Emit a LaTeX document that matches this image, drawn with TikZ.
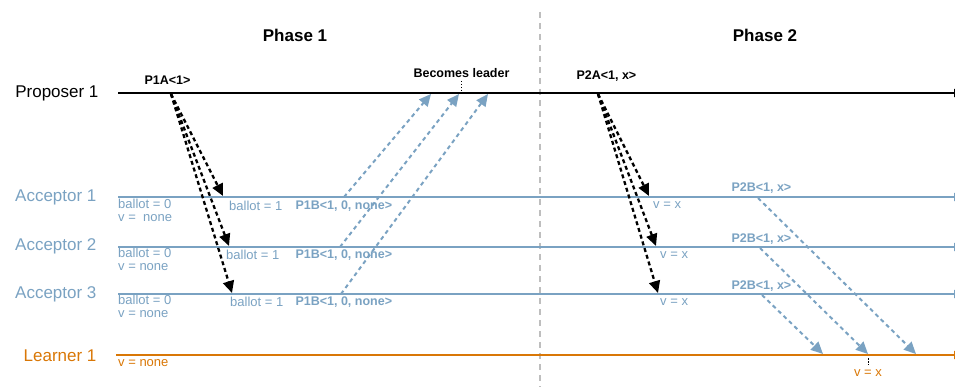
\documentclass[tikz,border=0pt]{standalone}
\usepackage{fontspec}
\setmainfont{Liberation Sans}
\usetikzlibrary{arrows.meta}
\definecolor{accblue}{RGB}{122,162,194}
\definecolor{lrnorange}{RGB}{217,119,6}
\definecolor{sepgray}{RGB}{190,190,190}
\tikzset{
  x=1pt, y=-1pt,
  actor/.style={anchor=east, font=\fontsize{17}{20}\selectfont},
  phase/.style={font=\fontsize{17}{20}\selectfont\bfseries},
  msg/.style={anchor=west, font=\fontsize{12.5}{15}\selectfont\bfseries},
  state/.style={anchor=west, inner sep=0pt, font=\fontsize{13}{15}\selectfont},
  lifeline/.style={line width=2pt, -{Triangle[length=8pt,width=8pt]}},
  reqmsg/.style={black, line width=2.3pt, dash pattern=on 4pt off 3pt,
    -{Triangle[length=12pt,width=11pt]}},
  repmsg/.style={accblue, line width=2pt, dash pattern=on 4pt off 3.5pt,
    -{Triangle[length=12pt,width=11pt]}},
  marker/.style={black, line width=0.8pt, dash pattern=on 1.5pt off 1.5pt}
}
\begin{document}
\begin{tikzpicture}
\useasboundingbox (0,0) rectangle (955,387);

% phase separator
\draw[sepgray, line width=1.2pt, dash pattern=on 6pt off 5pt] (540,12) -- (540,387);
\node[phase] (ph1) at (295,35) {Phase 1};
\node[phase] (ph2) at (765,35) {Phase 2};

% actor names
\node[actor] (prop) at (102,93) {Proposer 1};
\node[actor, text=accblue] (acc1) at (100,197) {Acceptor 1};
\node[actor, text=accblue] (acc2) at (100,246) {Acceptor 2};
\node[actor, text=accblue] (acc3) at (100,294) {Acceptor 3};
\node[actor, text=lrnorange] (lrn) at (100,356) {Learner 1};

% lifelines
\coordinate (propS) at (118,93);  \coordinate (propE) at (962,93);
\coordinate (a1S) at (118,197);   \coordinate (a1E) at (962,197);
\coordinate (a2S) at (118,247);   \coordinate (a2E) at (962,247);
\coordinate (a3S) at (118,294);   \coordinate (a3E) at (962,294);
\coordinate (lS) at (116,355);    \coordinate (lE) at (962,355);
\draw[lifeline, black] (propS) -- (propE);
\draw[lifeline, accblue] (a1S) -- (a1E);
\draw[lifeline, accblue] (a2S) -- (a2E);
\draw[lifeline, accblue] (a3S) -- (a3E);
\draw[lifeline, lrnorange, line width=2.5pt] (lS) -- (lE);

% initial state
\foreach \y/\n in {204/1,253/2,300/3}{
  \node[state, text=accblue] (b0\n) at (118,\y) {ballot = 0};
}
\node[state, text=accblue] (v01) at (118,218) {v =\ \ none};
\node[state, text=accblue] (v02) at (118,267) {v = none};
\node[state, text=accblue] (v03) at (118,314) {v = none};
\node[state, text=lrnorange] (lv0) at (118,363) {v = none};

% ---- phase 1 ----
\node[msg] (p1a) at (141,80) {P1A<1>};
\coordinate (p1aS) at (171,94);
\coordinate (p1aT1) at (223,196);
\coordinate (p1aT2) at (229,246);
\coordinate (p1aT3) at (232,293);
\draw[reqmsg] (p1aS) -- (p1aT1);
\draw[reqmsg] (p1aS) -- (p1aT2);
\draw[reqmsg] (p1aS) -- (p1aT3);

\node[state, text=accblue] (b11) at (229,206) {ballot = 1};
\node[state, text=accblue] (b12) at (226,255) {ballot = 1};
\node[state, text=accblue] (b13) at (230,302) {ballot = 1};
\node[msg, text=accblue] (p1b1) at (292,206) {P1B<1, 0, none>};
\node[msg, text=accblue] (p1b2) at (292,255) {P1B<1, 0, none>};
\node[msg, text=accblue] (p1b3) at (292,302) {P1B<1, 0, none>};

\coordinate (p1bS1) at (344,197); \coordinate (p1bT1) at (431,94);
\coordinate (p1bS2) at (340,247); \coordinate (p1bT2) at (459,94);
\coordinate (p1bS3) at (341,294); \coordinate (p1bT3) at (488,94);
\draw[repmsg] (p1bS1) -- (p1bT1);
\draw[repmsg] (p1bS2) -- (p1bT2);
\draw[repmsg] (p1bS3) -- (p1bT3);

\node[msg] (lead) at (410,73) {Becomes leader};
\coordinate (leadA) at (461,81); \coordinate (leadB) at (461,92);
\draw[marker] (leadA) -- (leadB);

% ---- phase 2 ----
\node[msg] (p2a) at (573,76) {P2A<1, x>};
\coordinate (p2aS) at (598,94);
\coordinate (p2aT1) at (649,196);
\coordinate (p2aT2) at (656,246);
\coordinate (p2aT3) at (658,293);
\draw[reqmsg] (p2aS) -- (p2aT1);
\draw[reqmsg] (p2aS) -- (p2aT2);
\draw[reqmsg] (p2aS) -- (p2aT3);

\node[state, text=accblue] (vx1) at (653,205) {v = x};
\node[state, text=accblue] (vx2) at (660,255) {v = x};
\node[state, text=accblue] (vx3) at (660,302) {v = x};
\node[msg, text=accblue] (p2b1) at (728,188) {P2B<1, x>};
\node[msg, text=accblue] (p2b2) at (728,239) {P2B<1, x>};
\node[msg, text=accblue] (p2b3) at (728,286) {P2B<1, x>};

\coordinate (p2bS1) at (758,198); \coordinate (p2bT1) at (916,354);
\coordinate (p2bS2) at (760,248); \coordinate (p2bT2) at (868,354);
\coordinate (p2bS3) at (762,295); \coordinate (p2bT3) at (823,354);
\draw[repmsg] (p2bS1) -- (p2bT1);
\draw[repmsg] (p2bS2) -- (p2bT2);
\draw[repmsg] (p2bS3) -- (p2bT3);

\coordinate (lrnA) at (868,358); \coordinate (lrnB) at (868,365);
\draw[marker] (lrnA) -- (lrnB);
\node[state, text=lrnorange, anchor=center] (lvx) at (868,373) {v = x};
\end{tikzpicture}
\end{document}
